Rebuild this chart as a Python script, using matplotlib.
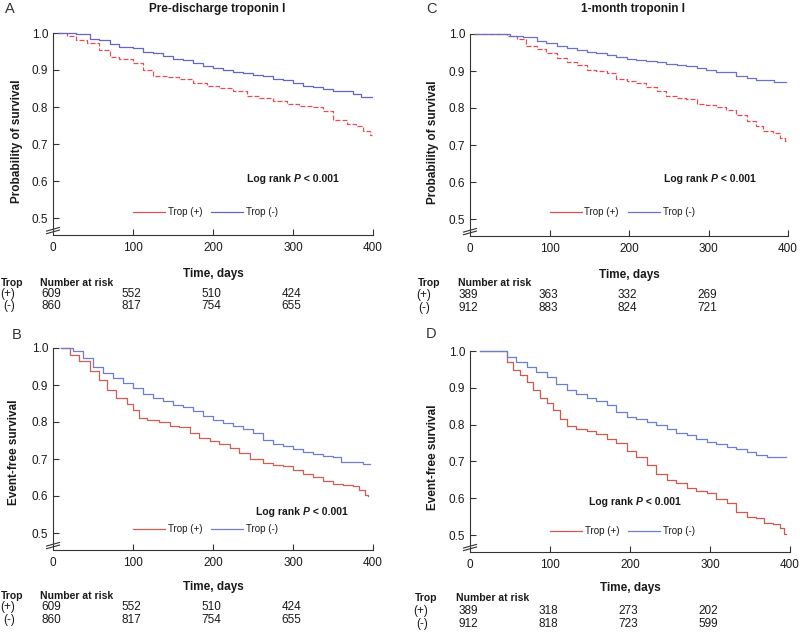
import matplotlib
matplotlib.use("Agg")
import matplotlib.pyplot as plt
from matplotlib.lines import Line2D
from matplotlib import transforms

plt.rcParams['font.family'] = ['Liberation Sans', 'DejaVu Sans']

W, H = 800, 635

# ---------------- data ----------------
risk_times = [0, 100, 200, 300]
xticks = [0, 100, 200, 300, 400]
yticks = [0.5, 0.6, 0.7, 0.8, 0.9, 1.0]
ytick_labels = ["0.5", "0.6", "0.7", "0.8", "0.9", "1.0"]

# Panel A: pre-discharge troponin I, overall survival
a_neg_t = [6, 29, 46, 58, 71, 83, 100, 112, 125, 138, 150, 162, 175, 188, 200, 212, 225, 238, 250,
           262, 275, 288, 300, 312, 325, 338, 350, 362, 375, 385, 399]
a_neg_s = [1.0, 0.997, 0.984, 0.980, 0.970, 0.962, 0.959, 0.950, 0.946, 0.937, 0.930, 0.926, 0.919,
           0.910, 0.905, 0.901, 0.895, 0.892, 0.887, 0.883, 0.877, 0.874, 0.865, 0.858, 0.853, 0.849,
           0.844, 0.842, 0.835, 0.827, 0.827]
a_pos_t = [6, 17, 29, 42, 58, 71, 83, 100, 112, 125, 142, 158, 175, 192, 208, 225, 242, 258, 275,
           292, 308, 325, 338, 350, 367, 379, 388, 396, 399]
a_pos_s = [1.0, 0.991, 0.982, 0.973, 0.955, 0.935, 0.930, 0.919, 0.899, 0.885, 0.881, 0.877, 0.865,
           0.858, 0.851, 0.842, 0.829, 0.824, 0.815, 0.809, 0.804, 0.800, 0.788, 0.766, 0.755, 0.750,
           0.734, 0.725, 0.725]
a_risk_pos = [609, 552, 510, 424]
a_risk_neg = [860, 817, 754, 655]

# Panel B: pre-discharge troponin I, event-free survival
b_neg_t = [10, 25, 38, 50, 62, 75, 88, 100, 112, 125, 138, 150, 162, 175, 188, 200, 212, 225, 238,
           250, 262, 275, 288, 300, 312, 325, 338, 350, 360, 375, 388, 396]
b_neg_s = [1.0, 0.991, 0.973, 0.950, 0.932, 0.919, 0.905, 0.892, 0.877, 0.865, 0.858, 0.847, 0.841,
           0.829, 0.815, 0.806, 0.797, 0.788, 0.781, 0.770, 0.752, 0.741, 0.734, 0.727, 0.719, 0.714,
           0.709, 0.705, 0.692, 0.691, 0.687, 0.687]
b_pos_t = [10, 21, 33, 46, 58, 67, 79, 92, 100, 108, 117, 133, 146, 158, 171, 183, 196, 208, 221,
           233, 246, 262, 275, 288, 300, 312, 325, 338, 350, 362, 375, 383, 390, 394]
b_pos_s = [1.0, 0.982, 0.964, 0.937, 0.914, 0.887, 0.865, 0.850, 0.833, 0.811, 0.805, 0.799, 0.790,
           0.786, 0.770, 0.757, 0.748, 0.741, 0.730, 0.716, 0.700, 0.689, 0.683, 0.680, 0.669, 0.660,
           0.651, 0.640, 0.633, 0.629, 0.626, 0.617, 0.604, 0.599]
b_risk_pos = [609, 552, 510, 424]
b_risk_neg = [860, 817, 754, 655]

# Panel C: 1-month troponin I, overall survival
c_neg_t = [6, 40, 50, 67, 84, 96, 109, 122, 134, 147, 159, 172, 184, 197, 209, 222, 235, 247, 260,
           272, 285, 297, 310, 322, 335, 348, 360, 373, 383, 398]
c_neg_s = [1.0, 1.0, 0.995, 0.991, 0.980, 0.977, 0.968, 0.962, 0.956, 0.951, 0.950, 0.944, 0.938,
           0.933, 0.931, 0.926, 0.923, 0.920, 0.916, 0.913, 0.908, 0.902, 0.897, 0.896, 0.887, 0.880,
           0.877, 0.877, 0.870, 0.870]
c_pos_t = [6, 40, 46, 59, 71, 84, 96, 109, 122, 134, 147, 159, 172, 184, 197, 209, 222, 235, 247,
           260, 272, 285, 297, 310, 322, 335, 348, 360, 369, 381, 390, 396, 398]
c_pos_s = [1.0, 1.0, 0.994, 0.986, 0.967, 0.959, 0.949, 0.935, 0.923, 0.916, 0.902, 0.899, 0.895,
           0.878, 0.872, 0.868, 0.857, 0.845, 0.833, 0.827, 0.823, 0.812, 0.809, 0.803, 0.795, 0.782,
           0.764, 0.752, 0.737, 0.732, 0.719, 0.712, 0.712]
c_risk_pos = [389, 363, 332, 269]
c_risk_neg = [912, 883, 824, 721]

# Panel D: 1-month troponin I, event-free survival
d_neg_t = [12, 37, 46, 58, 71, 83, 96, 108, 121, 133, 146, 158, 171, 183, 196, 208, 221, 233, 246,
           258, 271, 283, 296, 308, 321, 333, 346, 358, 371, 383, 395]
d_neg_s = [1.0, 1.0, 0.984, 0.970, 0.957, 0.943, 0.929, 0.911, 0.893, 0.884, 0.871, 0.863, 0.853,
           0.835, 0.821, 0.814, 0.807, 0.798, 0.789, 0.778, 0.771, 0.762, 0.753, 0.747, 0.740, 0.733,
           0.726, 0.717, 0.712, 0.712, 0.711]
d_pos_t = [12, 37, 46, 54, 62, 71, 79, 87, 96, 104, 112, 121, 133, 146, 158, 171, 183, 196, 208,
           221, 233, 246, 258, 271, 283, 296, 308, 321, 333, 346, 358, 367, 379, 388, 392, 395]
d_pos_s = [1.0, 1.0, 0.970, 0.948, 0.934, 0.916, 0.893, 0.873, 0.859, 0.839, 0.816, 0.796, 0.789,
           0.783, 0.774, 0.762, 0.749, 0.729, 0.712, 0.690, 0.665, 0.649, 0.640, 0.627, 0.620, 0.613,
           0.599, 0.586, 0.563, 0.548, 0.545, 0.532, 0.530, 0.518, 0.504, 0.504]
d_risk_pos = [389, 318, 273, 202]
d_risk_neg = [912, 818, 723, 599]

# ---------------- layout ----------------
fig = plt.figure(figsize=(W / 100, H / 100), dpi=100)
fig.patch.set_facecolor('white')

YLO, YHI = 0.455, 1.003
TXT = '#1a1a1a'


def fx(px):
    return px / W


def fy(py):
    return 1 - py / H


def make_axes(left, right, y1, y05):
    scale = (y05 - y1) / 0.5
    top = y1 - (YHI - 1.0) * scale
    bottom = y05 + (0.5 - YLO) * scale
    ax = fig.add_axes([fx(left), fy(bottom), (right - left) / W, (bottom - top) / H])
    ax.set_xlim(0, 400)
    ax.set_ylim(YLO, YHI)
    ax.spines['top'].set_visible(False)
    ax.spines['right'].set_visible(False)
    for sp in ('left', 'bottom'):
        ax.spines[sp].set_linewidth(0.8)
        ax.spines[sp].set_color('#333333')
    ax.spines['left'].set_bounds(0.474, 1.0)
    ax.set_xticks(xticks)
    ax.set_xticklabels([str(v) for v in xticks])
    ax.set_yticks(yticks)
    ax.set_yticklabels(ytick_labels)
    ax.tick_params(direction='in', length=4, width=0.8, colors='#333333',
                   labelsize=8.5, labelcolor=TXT)
    ax.tick_params(axis='x', pad=5)
    ax.tick_params(axis='y', pad=3.5)
    # axis break marks
    hw = 6.5 / (right - left)
    hh = 1.8 / (bottom - top)
    gap = 2.6 / (bottom - top)
    yb = (0.466 - YLO) / (YHI - YLO)
    for k in (-0.5, 0.5):
        ax.add_line(Line2D([-hw, hw], [yb + k * gap - hh, yb + k * gap + hh],
                           transform=ax.transAxes, clip_on=False, color='#333333', lw=0.8))
    return ax


def draw_panel(ax, pos_t, pos_s, neg_t, neg_s, red, blue, dashed, lr_xy, leg_xy):
    ls = (0, (4, 1.6)) if dashed else '-'
    ax.step(pos_t, pos_s, where='post', color=red, lw=0.9, linestyle=ls)
    ax.step(neg_t, neg_s, where='post', color=blue, lw=0.9)
    handles = [Line2D([], [], color=red, lw=0.9), Line2D([], [], color=blue, lw=0.9)]
    ax.legend(handles, ['Trop (+)', 'Trop (-)'], ncol=2, frameon=False, fontsize=7,
              loc='center left', bbox_to_anchor=leg_xy, bbox_transform=ax.transData,
              borderpad=0, borderaxespad=0, handlelength=3.3, handletextpad=0.3,
              columnspacing=0.9, labelcolor=TXT)
    t1 = ax.text(lr_xy[0], lr_xy[1], 'Log rank ', fontsize=7.5, fontweight='bold',
                 va='center', ha='left', color=TXT)
    t2 = ax.annotate('P', xy=(1, 0), xycoords=t1, fontsize=7.5, fontweight='bold',
                     fontstyle='italic', va='bottom', ha='left', color=TXT)
    ax.annotate(' < 0.001', xy=(1, 0), xycoords=t2, fontsize=7.5, fontweight='bold',
                va='bottom', ha='left', color=TXT)


def risk_table(ax, trop_x, plus_x, minus_x, nar_x, y_head, y_plus, y_minus, pos, neg):
    tr = transforms.blended_transform_factory(ax.transData, fig.transFigure)
    fig.text(fx(trop_x), fy(y_head), 'Trop', fontsize=7.5, fontweight='bold',
             va='center', ha='left', color=TXT)
    fig.text(fx(plus_x), fy(y_plus), '(+)', fontsize=8.5, va='center', ha='center', color=TXT)
    fig.text(fx(minus_x), fy(y_minus), '(-)', fontsize=8.5, va='center', ha='center', color=TXT)
    ax.text(nar_x, fy(y_head), 'Number at risk', transform=tr, fontsize=7.5,
            fontweight='bold', va='center', ha='left', color=TXT, clip_on=False)
    for t, p, n in zip(risk_times, pos, neg):
        ax.text(t - 2, fy(y_plus), str(p), transform=tr, fontsize=8.5, va='center',
                ha='center', color=TXT, clip_on=False)
        ax.text(t - 2, fy(y_minus), str(n), transform=tr, fontsize=8.5, va='center',
                ha='center', color=TXT, clip_on=False)


def xlabel(ax, ypx):
    tr = transforms.blended_transform_factory(ax.transData, fig.transFigure)
    ax.text(200, fy(ypx), 'Time, days', transform=tr, fontsize=8.5, fontweight='bold',
            ha='center', va='center', color=TXT, clip_on=False)


# Panel A
axA = make_axes(53, 373, 33, 218)
draw_panel(axA, a_pos_t, a_pos_s, a_neg_t, a_neg_s, '#e0505c', '#6466c0', True,
           (243, 0.605), (100, 0.516))
xlabel(axA, 274)
risk_table(axA, 1, 8, 9, -16, 283, 294, 306, a_risk_pos, a_risk_neg)
fig.text(fx(17), fy(141), 'Probability of survival', rotation=90, fontsize=8.5,
         fontweight='bold', ha='center', va='center', color=TXT)
fig.text(fx(217), fy(9), 'Pre-discharge troponin I', fontsize=8.5, fontweight='bold',
         ha='center', va='center', color=TXT)
fig.text(fx(5), fy(9), 'A', fontsize=10.5, ha='left', va='center', color='#333333')

# Panel B
axB = make_axes(53, 373, 348, 533)
draw_panel(axB, b_pos_t, b_pos_s, b_neg_t, b_neg_s, '#cf5f55', '#6e7ecb', False,
           (254, 0.557), (100, 0.511))
xlabel(axB, 587)
risk_table(axB, 1, 8, 9, -16, 596, 607, 620, b_risk_pos, b_risk_neg)
fig.text(fx(14), fy(452), 'Event-free survival', rotation=90, fontsize=8.5,
         fontweight='bold', ha='center', va='center', color=TXT)
fig.text(fx(12), fy(335), 'B', fontsize=10.5, ha='left', va='center', color='#333333')

# Panel C
axC = make_axes(470, 788, 34, 219)
draw_panel(axC, c_pos_t, c_pos_s, c_neg_t, c_neg_s, '#e24a56', '#6a72c8', True,
           (244, 0.608), (100, 0.519))
xlabel(axC, 275)
risk_table(axC, 418, 424, 424, -15, 283, 295, 308, c_risk_pos, c_risk_neg)
fig.text(fx(433), fy(142), 'Probability of survival', rotation=90, fontsize=8.5,
         fontweight='bold', ha='center', va='center', color=TXT)
fig.text(fx(633), fy(9), '1-month troponin I', fontsize=8.5, fontweight='bold',
         ha='center', va='center', color=TXT)
fig.text(fx(426), fy(9), 'C', fontsize=10.5, ha='left', va='center', color='#333333')

# Panel D
axD = make_axes(470, 790, 351, 535)
draw_panel(axD, d_pos_t, d_pos_s, d_neg_t, d_neg_s, '#d0584e', '#6b80cc', False,
           (149, 0.590), (100, 0.511))
xlabel(axD, 588)
risk_table(axD, 415, 421, 422, -17, 598, 611, 624, d_risk_pos, d_risk_neg)
fig.text(fx(433), fy(457), 'Event-free survival', rotation=90, fontsize=8.5,
         fontweight='bold', ha='center', va='center', color=TXT)
fig.text(fx(426), fy(334), 'D', fontsize=10.5, ha='left', va='center', color='#333333')

fig.savefig('out.png', dpi=100, facecolor='white')
